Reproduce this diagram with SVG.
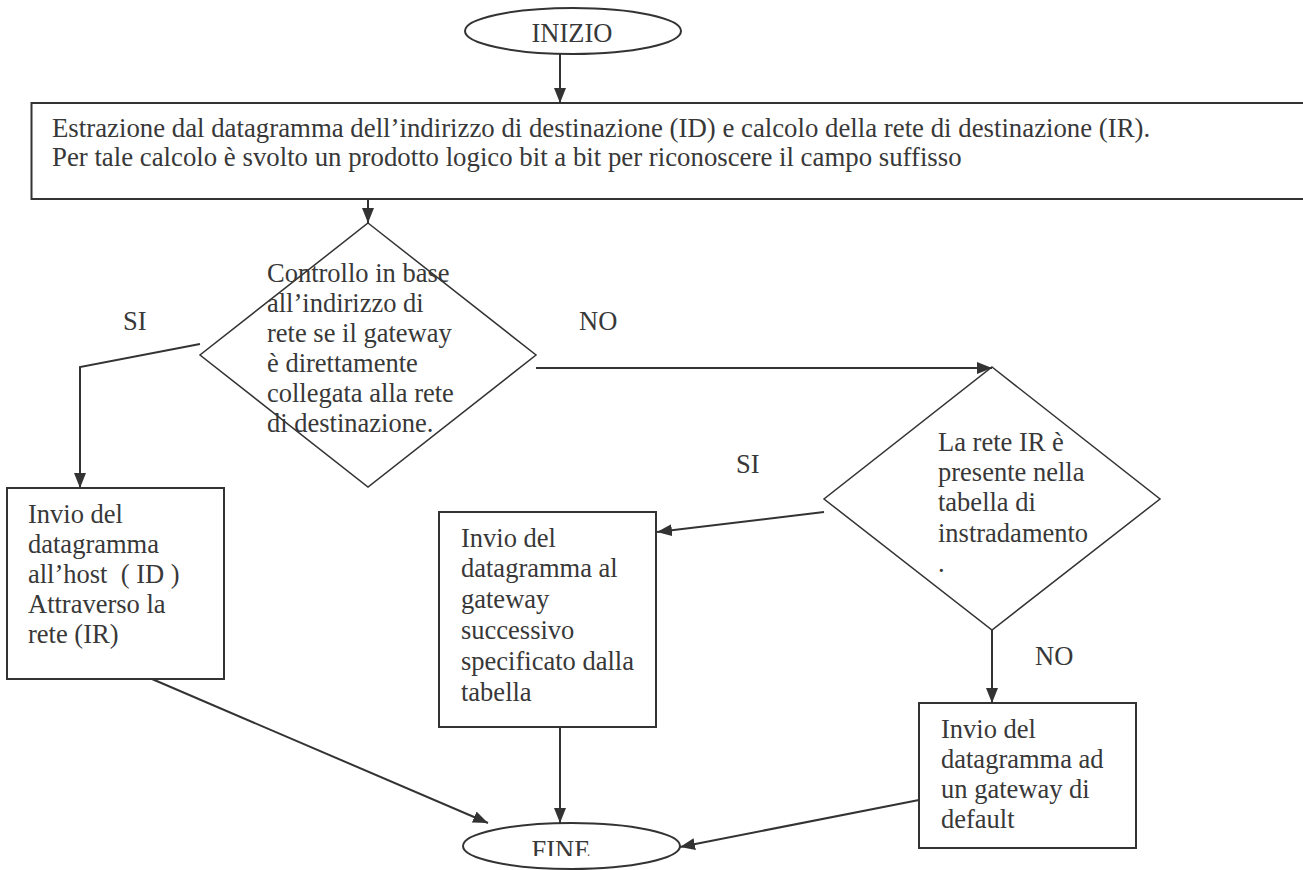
<svg xmlns="http://www.w3.org/2000/svg" width="1303" height="870" viewBox="0 0 1303 870" font-family="'Liberation Serif', 'Times New Roman', Times, 'DejaVu Serif', serif">
<defs>
<marker id="arr" markerUnits="userSpaceOnUse" markerWidth="16" markerHeight="12" refX="15" refY="6" orient="auto"><path d="M0,0 L15,6 L0,12 z" fill="#333"/></marker>
<clipPath id="fineclip"><rect x="440" y="800" width="260" height="56"/></clipPath>
</defs>
<style>
.shape{fill:#fff;stroke:#333;stroke-width:2}
.dia{fill:none;stroke:#333;stroke-width:1.5}
.conn{fill:none;stroke:#333;stroke-width:2;marker-end:url(#arr)}
.t{font-family:'Liberation Serif','Times New Roman',Times,'DejaVu Serif',serif;font-size:26.5px;fill:#383838}
.tm{font-size:26.8px}
</style>
<rect width="1303" height="870" fill="#fff"/>
<g id="connectors">
<path class="conn" d="M560,54 L560,103"/>
<path class="conn" d="M368,199 L368,223"/>
<path class="conn" d="M200,344 L80,367 L80,488"/>
<path class="conn" d="M536,368 L992,368"/>
<path class="conn" d="M824,512 L657,532"/>
<path class="conn" d="M992,630 L992,703"/>
<path class="conn" d="M152,679 L488,823"/>
<path class="conn" d="M560,727 L560,823"/>
<path class="conn" d="M919,800 L680,847"/>
<text class="t" x="123" y="330">SI</text>
<text class="t" x="579" y="330">NO</text>
<text class="t" x="736" y="473">SI</text>
<text class="t" x="1035" y="665">NO</text>
</g>
<g id="inizio">
<ellipse class="shape" cx="573" cy="31" rx="108" ry="23"/>
<text class="t" x="572" y="42" text-anchor="middle">INIZIO</text>
</g>
<g id="estrazione">
<rect class="shape" x="31.5" y="103" width="1300" height="96"/>
<text class="t tm" x="52" y="137">Estrazione dal datagramma dell’indirizzo di destinazione (ID) e calcolo della rete di destinazione (IR).</text>
<text class="t tm" x="52" y="166">Per tale calcolo è svolto un prodotto logico bit a bit per riconoscere il campo suffisso</text>
</g>
<g id="controllo">
<polygon class="dia" points="368,223 536,355 368,487 200,355"/>
<text class="t" x="267" y="282">Controllo in base</text>
<text class="t" x="267" y="312">all’indirizzo di</text>
<text class="t" x="267" y="342">rete se il gateway</text>
<text class="t" x="267" y="372">è direttamente</text>
<text class="t" x="267" y="402">collegata alla rete</text>
<text class="t" x="267" y="432">di destinazione.</text>
</g>
<g id="invio-host">
<rect class="shape" x="7" y="488" width="217" height="191"/>
<text class="t" x="28" y="523">Invio del</text>
<text class="t" x="28" y="553">datagramma</text>
<text class="t" x="28" y="583" xml:space="preserve">all’host  ( ID )</text>
<text class="t" x="28" y="613">Attraverso la</text>
<text class="t" x="28" y="643">rete (IR)</text>
</g>
<g id="tabella">
<polygon class="dia" points="992,367 1160,499 992,630 824,499"/>
<text class="t" x="938" y="451">La rete IR è</text>
<text class="t" x="938" y="481">presente nella</text>
<text class="t" x="938" y="511">tabella di</text>
<text class="t" x="938" y="542">instradamento</text>
<text class="t" x="938" y="572">.</text>
</g>
<g id="invio-gateway">
<rect class="shape" x="439" y="512" width="217" height="215"/>
<text class="t" x="461" y="547">Invio del</text>
<text class="t" x="461" y="577">datagramma al</text>
<text class="t" x="461" y="608">gateway</text>
<text class="t" x="461" y="639">successivo</text>
<text class="t" x="461" y="670">specificato dalla</text>
<text class="t" x="461" y="701">tabella</text>
</g>
<g id="invio-default">
<rect class="shape" x="919" y="703" width="217" height="145"/>
<text class="t" x="941" y="738">Invio del</text>
<text class="t" x="941" y="768">datagramma ad</text>
<text class="t" x="941" y="798">un gateway di</text>
<text class="t" x="941" y="828">default</text>
</g>
<g id="fine">
<ellipse class="shape" cx="571.5" cy="846" rx="108.5" ry="23"/>
<text class="t" x="561" y="859" text-anchor="middle" clip-path="url(#fineclip)">FINE</text>
</g>
</svg>
